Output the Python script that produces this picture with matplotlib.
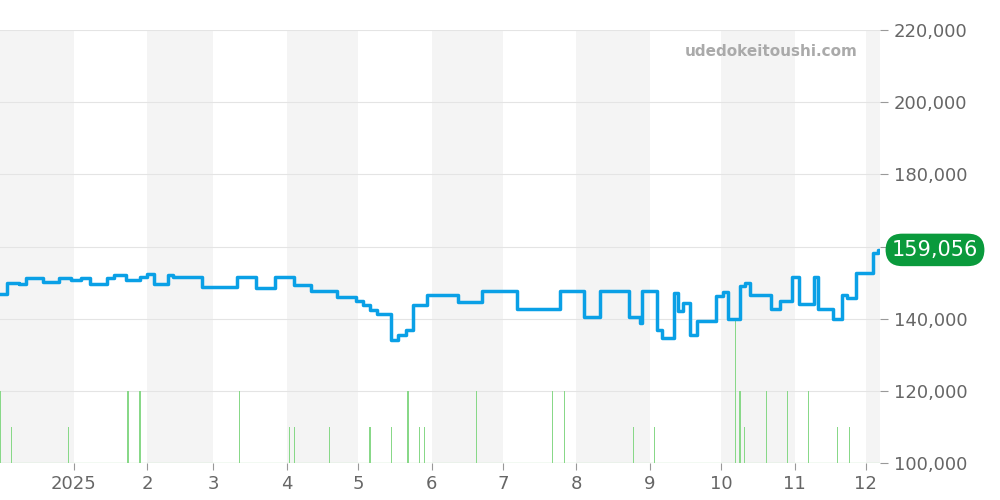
import matplotlib
matplotlib.use("Agg")
import matplotlib.pyplot as plt
import matplotlib.transforms as mtrans
import numpy as np
import datetime as dt

start = dt.datetime(2024, 12, 1)
price_days = [0,3,8,11,18,25,30,34,38,45,48,53,59,62,65,71,73,85,100,108,116,124,131,142,150,153,156,159,
              165,168,171,174,180,193,203,218,236,246,253,265,270,270.5,277,279,284,286,288,291,294,
              302,305,307,312,314,316,325,329,334,337,343,345,351,355,357,361,368,370,371]
price_vals = [146.8,149.9,149.6,151.3,150.2,151.3,150.7,151.3,149.6,151.3,152.1,150.7,151.6,152.4,149.6,152.1,151.6,
              148.8,151.6,148.5,151.6,149.3,147.7,146.0,144.9,143.8,142.4,141.3,
              134.1,135.5,136.9,143.8,146.6,144.6,147.7,142.7,147.7,140.5,147.7,140.5,138.8,147.7,136.9,134.6,
              147.1,142.1,144.3,135.5,139.4,
              146.3,147.4,139.9,149.1,149.9,146.6,142.7,144.9,151.6,144.1,151.6,142.7,139.9,146.6,145.7,152.7,
              158.2,159.056,159.056]
bar_days = [0.3,5,29,54,59,101,122,124,139,156,165,172,177,179,201,233,238,267,276,310,312,314,323,332,341,353,358]
bar_vals = [120,110,110,120,120,120,110,110,110,110,110,120,110,110,120,120,120,110,110,140,120,110,120,120,120,110,110]

pdates = [start + dt.timedelta(days=d) for d in price_days]
bdates = [start + dt.timedelta(days=d) for d in bar_days]
end = start + dt.timedelta(days=371)

fig = plt.figure(figsize=(10, 5), dpi=100)
ax = fig.add_axes([0.0, 0.074, 0.88, 0.866])

shade_months = [(2024,12),(2025,2),(2025,4),(2025,6),(2025,8),(2025,10),(2025,12)]
for y, m in shade_months:
    s = dt.datetime(y, m, 1)
    e = dt.datetime(y + (m // 12), m % 12 + 1, 1)
    ax.axvspan(s, e, color="#f4f4f4", zorder=0, lw=0)

ax.axhline(100000, color="#c8ecc8", lw=1, zorder=1)
ax.bar(bdates, [v*1000 - 100000 for v in bar_vals], bottom=100000, width=0.5,
       color="#88d888", zorder=2, linewidth=0)
ax.plot(pdates, [v*1000 for v in price_vals], drawstyle="steps-post", color="#0aa0e6", lw=2.5, zorder=3)

ax.set_xlim(start, end)
ax.set_ylim(100000, 220000)
ax.yaxis.tick_right()
ax.set_yticks(np.arange(100000, 220001, 20000))
ax.yaxis.set_major_formatter(matplotlib.ticker.FuncFormatter(lambda v, p: f"{int(v):,}"))
ax.grid(axis="y", color="#e4e4e4", lw=0.8)
ax.set_axisbelow(True)
for s in ax.spines.values():
    s.set_visible(False)
xt = [dt.datetime(2025, m, 1) for m in range(1, 13)]
ax.set_xticks(xt)
ax.set_xticklabels(["2025"] + [str(m) for m in range(2, 13)])
ax.tick_params(axis="y", colors="#666666", labelsize=13, length=6, color="#999999", pad=4)
ax.tick_params(axis="x", colors="#666666", labelsize=13, length=5, color="#999999")

ax.text(0.975, 0.95, "udedokeitoushi.com", transform=ax.transAxes, ha="right", va="center",
        fontsize=11, fontweight="bold", color="#aaaaaa")
tr = mtrans.blended_transform_factory(ax.transAxes, ax.transData)
ax.text(1.0625, price_vals[-1]*1000, f"{int(price_vals[-1]*1000):,}", transform=tr,
        ha="center", va="center", fontsize=15, color="white", zorder=10,
        bbox=dict(boxstyle="round,pad=0.3,rounding_size=0.8", fc="#0a9a3c", ec="none"), clip_on=False)

fig.savefig("out.png", dpi=100)
